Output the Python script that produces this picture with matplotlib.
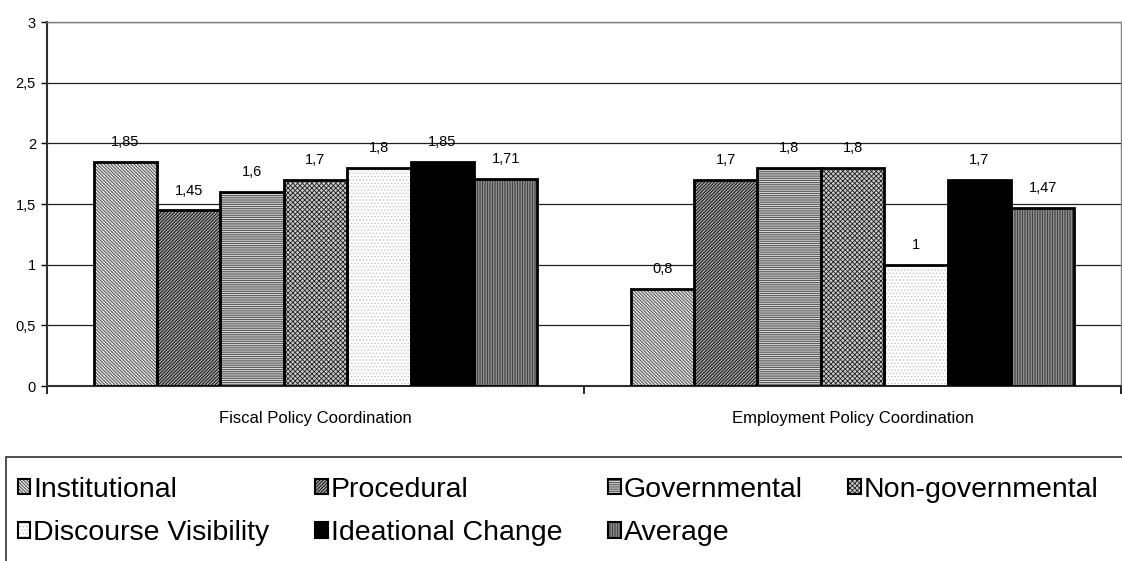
import matplotlib
matplotlib.use("Agg")
import matplotlib.pyplot as plt
from matplotlib.patches import Patch, Rectangle
from matplotlib.ticker import FuncFormatter, FixedLocator
import numpy as np

plt.rcParams['font.family'] = ['Liberation Sans', 'DejaVu Sans']
plt.rcParams['hatch.linewidth'] = 0.6

categories = ['Fiscal Policy Coordination', 'Employment Policy Coordination']
series = ['Institutional', 'Procedural', 'Governmental', 'Non-governmental',
          'Discourse Visibility', 'Ideational Change', 'Average']
fiscal = [1.85, 1.45, 1.6, 1.7, 1.8, 1.85, 1.71]
employment = [0.8, 1.7, 1.8, 1.8, 1.0, 1.7, 1.47]

# (face colour, hatch, hatch colour) for each series
styles = [
    ('#e0e0e0', '\\' * 10, '#404040'),
    ('#a0a0a0', '/' * 10, '#000000'),
    ('#dcdcdc', '-' * 9, '#404040'),
    ('#cccccc', 'x' * 7, '#202020'),
    ('white', '.' * 5, '#c4c4c4'),
    ('black', '', 'black'),
    ('#aaaaaa', '|' * 10, '#303030'),
]

def comma(v):
    s = ('%g' % v)
    return s.replace('.', ',')

fig = plt.figure(figsize=(11.22, 5.61), dpi=100)
ax = fig.add_axes([47 / 1122, 1 - 386 / 561, 1074 / 1122, 364 / 561])

x = np.arange(len(categories))
width = 0.118
values = np.array([fiscal, employment]).T

handles = []
for i, name in enumerate(series):
    fc, hatch, hc = styles[i]
    pos = x + (i - 3) * width
    ax.bar(pos, values[i], width, color=fc, hatch=hatch, edgecolor=hc,
           linewidth=0, zorder=3)
    ax.bar(pos, values[i], width, fill=False, edgecolor='black',
           linewidth=2, zorder=4)
    for px, v in zip(pos, values[i]):
        ax.annotate(comma(v), (px, v), xytext=(0, 9), textcoords='offset points',
                    ha='center', va='bottom', fontsize=10.5, zorder=5)
    handles.append((Patch(facecolor=fc, hatch=hatch, edgecolor=hc, linewidth=0),
                    Patch(fill=False, edgecolor='black', linewidth=1.5)))

ax.set_xlim(-0.5, 1.5)
ax.set_ylim(0, 3)
ax.set_yticks(np.arange(0, 3.01, 0.5))
ax.yaxis.set_major_formatter(FuncFormatter(lambda v, p: comma(v)))
ax.tick_params(axis='y', length=4, width=1, labelsize=10.5, pad=4)
ax.grid(axis='y', color='#202020', linewidth=0.9, zorder=0)

ax.set_xticks(x)
ax.set_xticklabels(categories, fontsize=12)
ax.tick_params(axis='x', length=0, pad=18)
ax.xaxis.set_minor_locator(FixedLocator([-0.5, 0.5, 1.5]))
ax.tick_params(axis='x', which='minor', length=6, width=1.2)

for side in ['left', 'bottom']:
    ax.spines[side].set_linewidth(1.5)
    ax.spines[side].set_color('#303030')
for side in ['top', 'right']:
    ax.spines[side].set_linewidth(1)
    ax.spines[side].set_color('#808080')

# legend entries fill row by row: matplotlib lays columns out first
order = [0, 4, 1, 5, 2, 6, 3]
fig.patches.append(Rectangle((6 / 1122, -0.1), 1.2, 0.1 + (561 - 457) / 561,
                             transform=fig.transFigure, fill=False,
                             edgecolor='#303030', linewidth=1.2))
fig.legend([handles[k] for k in order], [series[k] for k in order],
           loc='upper left', ncol=4, mode='expand',
           bbox_to_anchor=(9 / 1122, -0.1, 1098 / 1122, 0.1 + (561 - 468) / 561),
           frameon=False, fontsize=20.5, handlelength=0.45, handleheight=0.45,
           handletextpad=0.1, labelspacing=0.62, borderpad=0.3,
           borderaxespad=0)

fig.savefig('out.png', dpi=100)
